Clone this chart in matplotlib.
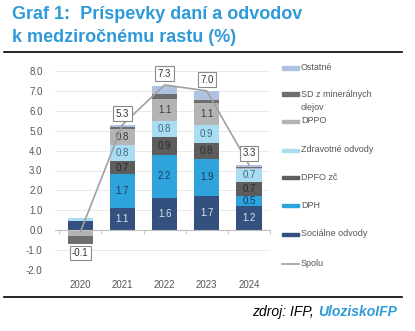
import matplotlib.pyplot as plt
from matplotlib.patches import Rectangle
from matplotlib.lines import Line2D
import numpy as np

years = ['2020', '2021', '2022', '2023', '2024']
series = ['Sociálne odvody', 'DPH', 'DPFO zč', 'Zdravotné odvody', 'DPPO',
          'SD z minerálnych olejov', 'Ostatné']
socialne = [0.45, 1.1, 1.6, 1.7, 1.2]
dph = [0.0, 1.7, 2.2, 1.9, 0.5]
dpfo = [0.0, 0.7, 0.9, 0.8, 0.7]
zdravotne = [0.15, 0.8, 0.8, 0.9, 0.7]
dppo = [-0.3, 0.8, 1.1, 1.1, 0.05]
sd_oleje = [-0.4, 0.1, 0.25, 0.15, 0.05]
ostatne = [0.0, 0.1, 0.4, 0.45, 0.1]
spolu = [-0.1, 5.3, 7.3, 7.0, 3.3]

colors = ['#34507f', '#2ea3dc', '#5d5d5d', '#aadcf2', '#b4b4b4', '#6e6e6e', '#afc2df']
label_colors = ['#dde6f2', '#1f3a62', '#2a2a2a', '#3d6a88', '#3a3a3a', None, None]
values = [socialne, dph, dpfo, zdravotne, dppo, sd_oleje, ostatne]

plt.rcParams['font.family'] = ['Liberation Sans', 'DejaVu Sans']
fig = plt.figure(figsize=(4.15, 3.31), dpi=100)
W, H = 415, 331

# title and rules
fig.text(12 / W, 1 - 19 / H, 'Graf 1:  Príspevky daní a odvodov', fontsize=13,
         fontweight='bold', color='#2f9ad8', va='baseline')
fig.text(12 / W, 1 - 42 / H, 'k medziročnému rastu (%)', fontsize=13,
         fontweight='bold', color='#2f9ad8', va='baseline')
fig.add_artist(Line2D([4 / W, 402 / W], [1 - 52 / H] * 2, color='black', lw=1.2))
fig.add_artist(Line2D([4 / W, 402 / W], [1 - 297 / H] * 2, color='black', lw=1.2))
src = fig.text(397 / W, 1 - 316 / H, 'UloziskoIFP', fontsize=10, fontweight='bold',
               style='italic', color='#2f9ad8', ha='right', va='baseline')
fig.canvas.draw()
bb = src.get_window_extent()
fig.text(bb.x0 / W, 1 - 316 / H, 'zdroj: IFP, ', fontsize=10, style='italic',
         color='black', ha='right', va='baseline')

ax = fig.add_axes([55 / W, 1 - 270 / H, 215 / W, 199 / H])
x = np.arange(len(years))
pos = np.zeros(len(years))
neg = np.zeros(len(years))
for vals, col, lc in zip(values, colors, label_colors):
    v = np.array(vals)
    bottom = np.where(v >= 0, pos, neg)
    ax.bar(x, v, 0.6, bottom=bottom, color=col, zorder=2)
    if lc is not None:
        for xi, vi, bi in zip(x, v, bottom):
            if vi >= 0.5:
                ax.text(xi, bi + vi / 2, f'{vi:.1f}', ha='center', va='center',
                        fontsize=7, color=lc, zorder=3)
    pos = pos + np.where(v >= 0, v, 0)
    neg = neg + np.where(v < 0, v, 0)

ax.plot(x, spolu, color='#a0a0a0', lw=1.2, zorder=4)
for xi, s in zip(x, spolu):
    off = -15 if s < 0 else 8
    ax.annotate(f'{s:.1f}', (xi, s), xytext=(0, off), textcoords='offset points',
                ha='center', va='center', fontsize=7, color='#333333', zorder=5,
                bbox=dict(boxstyle='square,pad=0.25', fc='white', ec='#8a8a8a', lw=0.8))

ax.set_ylim(-2, 8)
ax.set_xlim(-0.6, 4.5)
ax.set_yticks(np.arange(-2, 9))
ax.set_yticklabels([f'{t:.1f}' for t in np.arange(-2, 9)])
ax.grid(axis='y', color='#e6e6e6', lw=0.6, zorder=0)
ax.set_axisbelow(True)
for s in ['top', 'right', 'left']:
    ax.spines[s].set_visible(False)
ax.spines['bottom'].set_position(('data', 0))
ax.spines['bottom'].set_color('#bfbfbf')
ax.spines['bottom'].set_linewidth(0.8)
ax.set_xticks(x)
ax.set_xticklabels(years)
ax.set_xticks(np.arange(-0.5, 4.6, 1), minor=True)
ax.tick_params(axis='x', which='major', length=0, pad=36, labelsize=7, labelcolor='#555555')
ax.tick_params(axis='x', which='minor', length=3, color='#bfbfbf')
ax.tick_params(axis='y', length=0, pad=9, labelsize=7, labelcolor='#555555')

# legend, drawn by hand to keep the uneven row spacing
legend_rows = [('Ostatné', colors[6], 68), ('SD z minerálnych', colors[5], 94),
               ('DPPO', colors[4], 121), ('Zdravotné odvody', colors[3], 150),
               ('DPFO zč', colors[2], 177), ('DPH', colors[1], 205),
               ('Sociálne odvody', colors[0], 234)]
for lab, col, yp in legend_rows:
    fig.add_artist(Rectangle((282 / W, 1 - (yp + 1.5) / H), 17 / W, 3 / H,
                             color=col, transform=fig.transFigure))
    fig.text(301 / W, 1 - yp / H, lab, fontsize=6.5, color='#555555', va='center')
fig.text(301 / W, 1 - 107 / H, 'olejov', fontsize=6.5, color='#555555', va='center')
fig.add_artist(Line2D([282 / W, 299 / W], [1 - 264 / H] * 2, color='#a0a0a0', lw=1.2))
fig.text(301 / W, 1 - 264 / H, 'Spolu', fontsize=6.5, color='#555555', va='center')

fig.savefig('out.png', dpi=100, facecolor='white')
